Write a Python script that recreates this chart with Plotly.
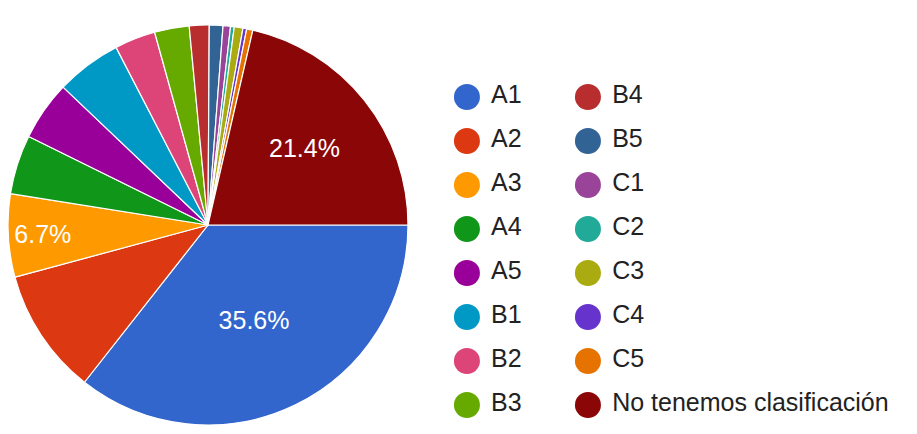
import plotly.graph_objects as go

categories = ["A1", "A2", "A3", "A4", "A5", "B1", "B2", "B3",
              "B4", "B5", "C1", "C2", "C3", "C4", "C5", "No tenemos clasificación"]
percentages = [35.6, 10.2, 6.7, 4.8, 4.8, 5.3, 3.3, 2.8,
               1.6, 1.1, 0.6, 0.3, 0.7, 0.3, 0.5, 21.4]
colors = ["#3366cc", "#dc3912", "#ff9900", "#109618", "#990099", "#0099c6", "#dd4477", "#66aa00",
          "#b82e2e", "#316395", "#994499", "#22aa99", "#aaaa11", "#6633cc", "#e67300", "#8b0707"]
labeled = ["A1", "A3", "No tenemos clasificación"]

FONT = "Arial, Liberation Sans, sans-serif"

fig = go.Figure()

fig.add_trace(go.Pie(
    labels=categories,
    values=percentages,
    sort=False,
    direction="clockwise",
    rotation=90,
    marker=dict(colors=colors, line=dict(color="white", width=1.2)),
    texttemplate=["%{percent}" if c in labeled else "" for c in categories],
    textposition="inside",
    insidetextorientation="horizontal",
    insidetextfont=dict(color="white", size=25, family=FONT),
    showlegend=False,
    domain=dict(x=[0.0, 0.4362], y=[0.0392, 0.9608]),
    hoverinfo="label+percent",
))

# Legend drawn as two columns of markers with labels
rows_per_col = 8
col_idx = [i // rows_per_col for i in range(len(categories))]
row_idx = [i % rows_per_col for i in range(len(categories))]
label_offset = 0.2

fig.add_trace(go.Scatter(
    x=col_idx, y=row_idx, mode="markers",
    marker=dict(size=26, color=colors, line=dict(width=0)),
    hoverinfo="skip", showlegend=False,
    xaxis="x", yaxis="y",
))
fig.add_trace(go.Scatter(
    x=[c + label_offset for c in col_idx], y=row_idx, mode="text",
    text=categories, textposition="middle right",
    textfont=dict(size=25, color="#222222", family=FONT),
    hoverinfo="skip", showlegend=False,
    xaxis="x", yaxis="y",
))

fig.update_layout(
    width=917, height=434,
    margin=dict(l=0, r=0, t=0, b=0),
    paper_bgcolor="white",
    plot_bgcolor="rgba(0,0,0,0)",
    font=dict(family=FONT),
    xaxis=dict(domain=[0.48, 1], range=[-0.155, 3.785], visible=False, fixedrange=True),
    yaxis=dict(domain=[0, 1], range=[7.84, -2.023], visible=False, fixedrange=True),
)

fig.write_html("out.html")
